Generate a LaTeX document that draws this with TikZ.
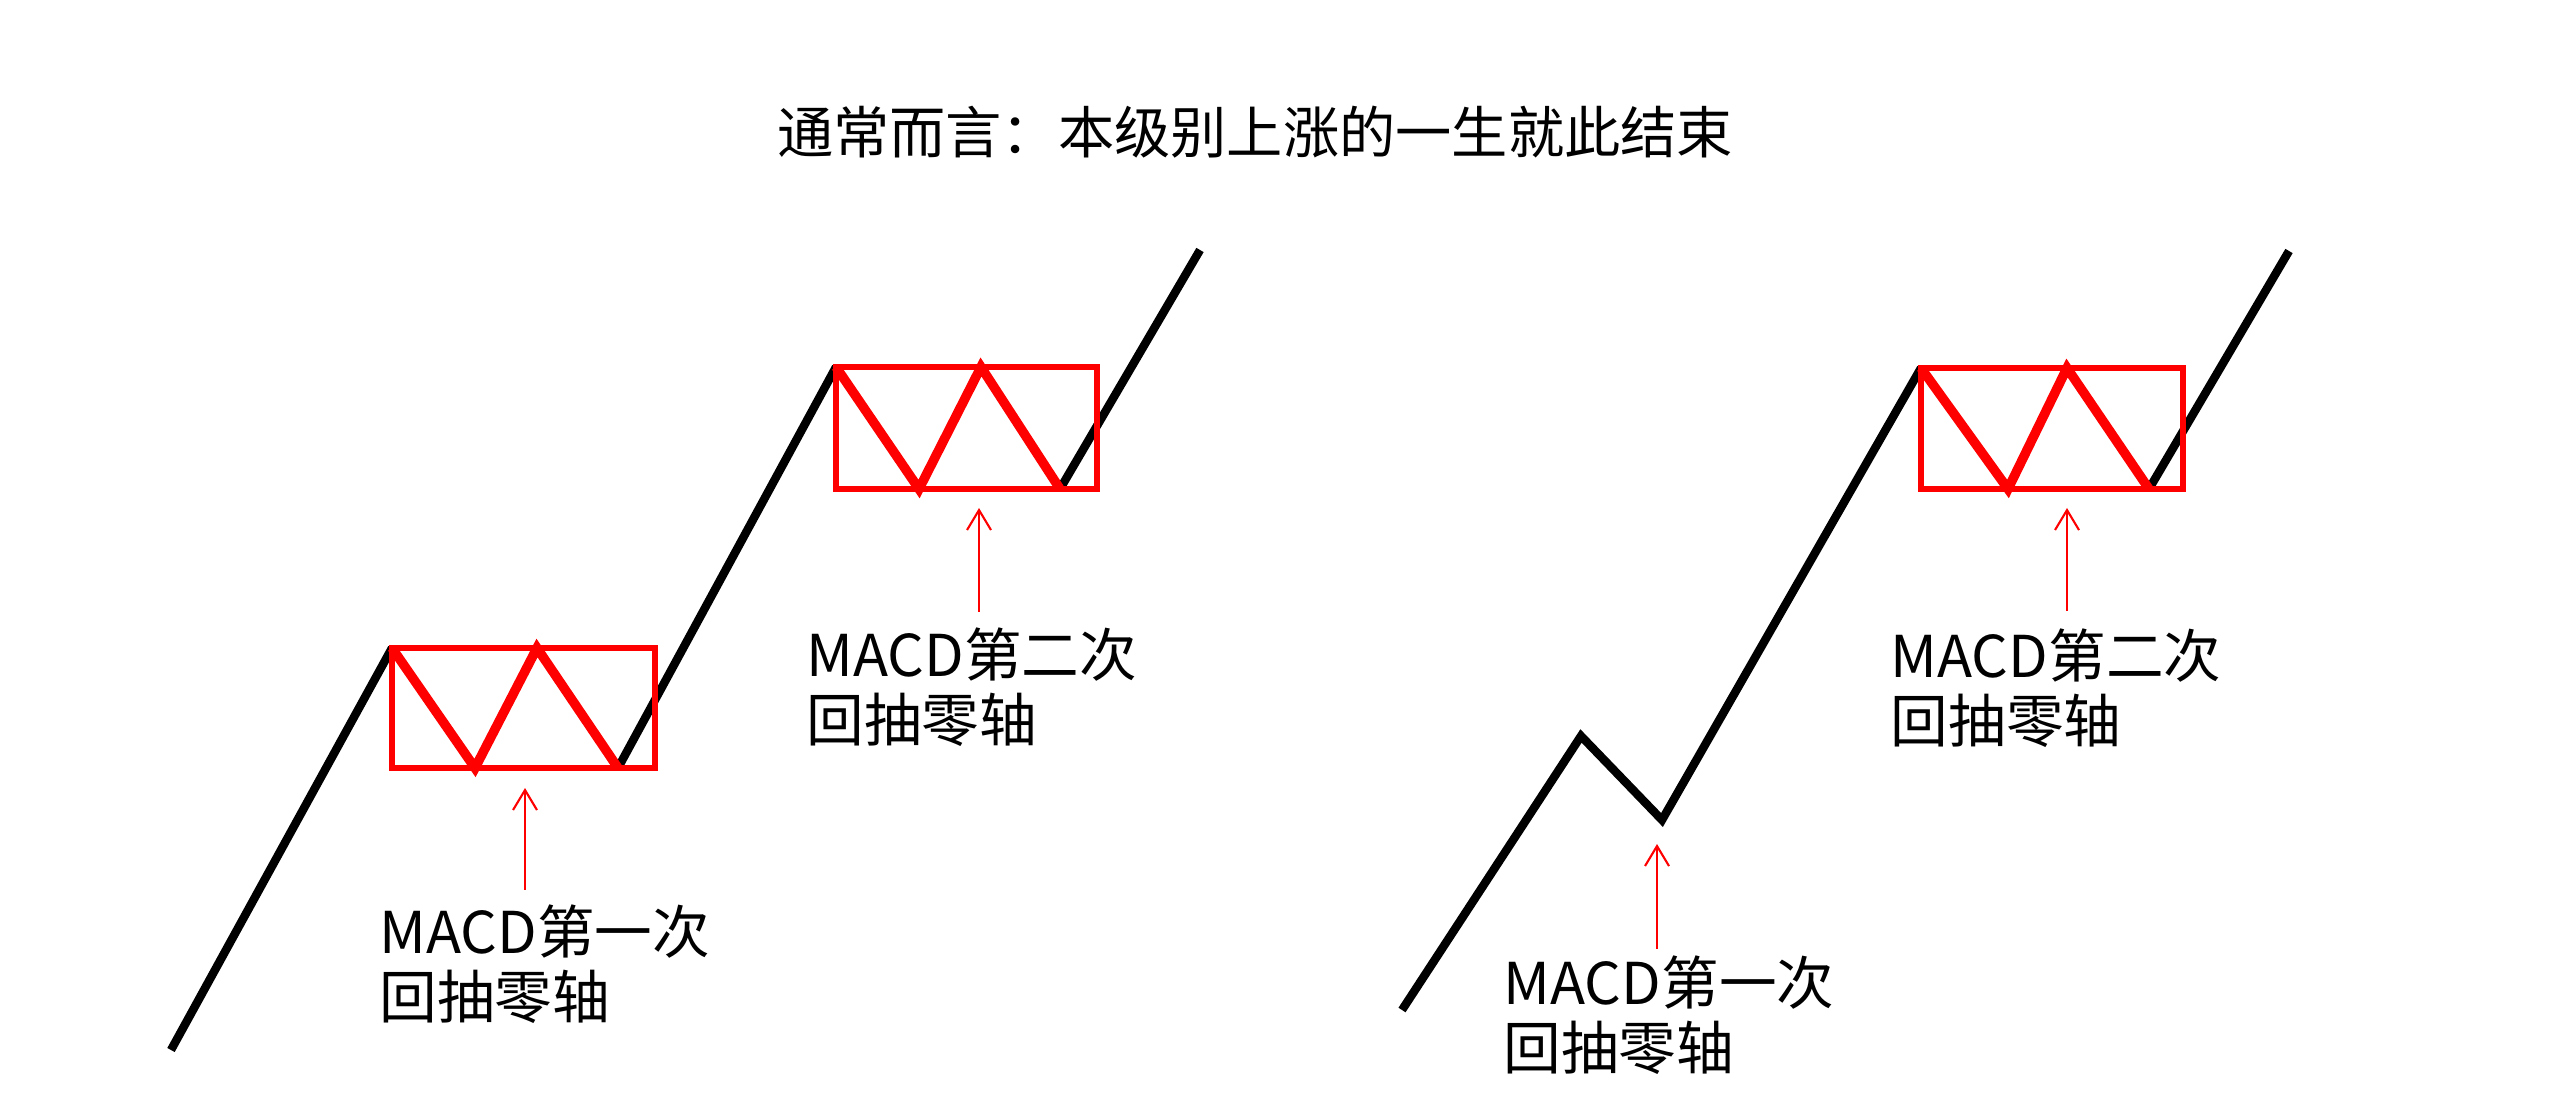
\documentclass[tikz,border=0pt]{standalone}
\usepackage{fontspec}
\setmainfont{Noto Sans CJK SC}
\usetikzlibrary{arrows.meta}
\tikzset{
  trend/.style={line width=2.4pt},
  zonebox/.style={draw=red, line width=1.7pt},
  zigzag/.style={red, line width=2.7pt, line join=miter},
  pointer/.style={red, line width=0.6pt, -{Straight Barb[length=2mm, width=2.4mm]}},
  note/.style={anchor=base west, inner sep=0pt, align=left, font=\fontsize{16.4}{18.5}\selectfont},
}
\begin{document}
\begin{tikzpicture}
    \useasboundingbox (0,0) rectangle (25.6,10.94);
    % Title
    \node[inner sep=0pt, font=\fontsize{16}{18}\selectfont] (title) at (12.55,9.62) {通常而言：本级别上涨的一生就此结束};
    % Left trend
    \draw[trend] (1.71,0.44) -- (3.92,4.46);
    \draw[trend] (6.18,3.26) -- (8.36,7.27);
    \draw[trend] (10.60,6.05) -- (12.00,8.44);
    % Left boxes
    \draw[zonebox] (3.92,3.26) rectangle (6.55,4.46);
    \draw[zigzag] (3.92,4.46) -- (4.75,3.26) -- (5.37,4.46) -- (6.18,3.26);
    \draw[zonebox] (8.36,6.05) rectangle (10.97,7.27);
    \draw[zigzag] (8.36,7.27) -- (9.19,6.05) -- (9.81,7.27) -- (10.60,6.05);
    % Right trend
    \draw[trend] (14.02,0.84) -- (15.81,3.58) -- (16.62,2.74) -- (19.21,7.26);
    \draw[trend] (21.49,6.05) -- (22.89,8.43);
    % Right box
    \draw[zonebox] (19.21,6.05) rectangle (21.83,7.26);
    \draw[zigzag] (19.21,7.26) -- (20.08,6.05) -- (20.67,7.26) -- (21.49,6.05);
    % Labels
    \node[note] (firstL) at (3.79,0.75) {MACD第一次\\回抽零轴};
    \node[note] (secondL) at (8.06,3.52) {MACD第二次\\回抽零轴};
    \node[note] (firstR) at (15.03,0.24) {MACD第一次\\回抽零轴};
    \node[note] (secondR) at (18.90,3.51) {MACD第二次\\回抽零轴};
    % Pointers
    \coordinate (firstLtail) at (5.25,2.04);  \coordinate (firstLtip) at (5.25,3.06);
    \coordinate (secondLtail) at (9.79,4.82); \coordinate (secondLtip) at (9.79,5.86);
    \coordinate (firstRtail) at (16.57,1.45); \coordinate (firstRtip) at (16.57,2.50);
    \coordinate (secondRtail) at (20.67,4.83); \coordinate (secondRtip) at (20.67,5.86);
    \draw[pointer] (firstLtail) -- (firstLtip);
    \draw[pointer] (secondLtail) -- (secondLtip);
    \draw[pointer] (firstRtail) -- (firstRtip);
    \draw[pointer] (secondRtail) -- (secondRtip);
\end{tikzpicture}
\end{document}
